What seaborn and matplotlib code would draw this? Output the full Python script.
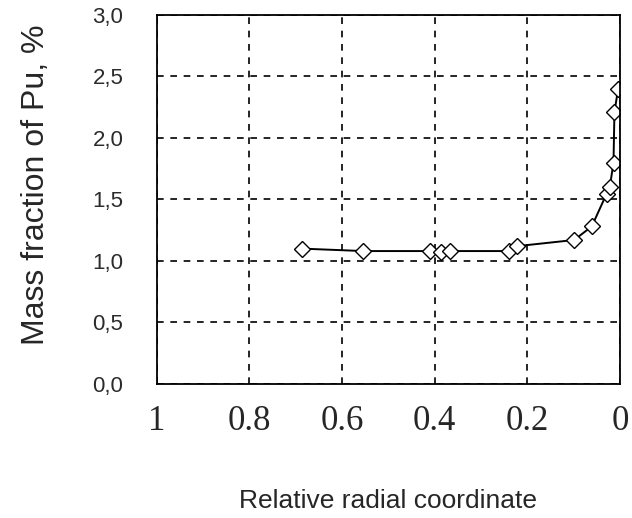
import numpy as np
import pandas as pd
import matplotlib
matplotlib.use("Agg")
import matplotlib.pyplot as plt
import seaborn as sns
from matplotlib.ticker import FuncFormatter

# Relative radial coordinate (1 = centre, 0 = pellet surface)
radial_coord = [0.687, 0.554, 0.41, 0.387, 0.367, 0.24, 0.222, 0.099,
                0.061, 0.029, 0.022, 0.014, 0.012, 0.004]
# Mass fraction of Pu, %
pu_fraction = [1.10, 1.08, 1.08, 1.07, 1.08, 1.08, 1.12, 1.17,
               1.28, 1.545, 1.60, 1.80, 2.21, 2.40]

x_ticks = [1, 0.8, 0.6, 0.4, 0.2, 0]
x_tick_labels = ["1", "0.8", "0.6", "0.4", "0.2", "0"]
y_ticks = [0.0, 0.5, 1.0, 1.5, 2.0, 2.5, 3.0]

df = pd.DataFrame({"r": radial_coord, "pu": pu_fraction})

sns.set_style("white")
plt.rcParams["font.family"] = ["Liberation Sans", "DejaVu Sans"]

fig = plt.figure(figsize=(6.32, 5.18), dpi=100)
ax = fig.add_axes([0.248, 0.259, 0.733, 0.712])

sns.lineplot(data=df, x="r", y="pu", sort=False, ax=ax, color="black",
             linewidth=1.4, marker="D", markersize=8,
             markerfacecolor="white", markeredgecolor="black",
             markeredgewidth=1.0)

ax.set_xlim(1, 0)
ax.set_ylim(0, 3.0)
ax.set_xticks(x_ticks)
ax.set_xticklabels(x_tick_labels, family="Liberation Serif", fontsize=25)
ax.set_yticks(y_ticks)
ax.yaxis.set_major_formatter(FuncFormatter(lambda v, p: f"{v:.1f}".replace(".", ",")))
ax.tick_params(axis="y", labelsize=16, labelcolor="#2b2b2b")

ax.grid(True, linestyle=(0, (4, 4)), color="black", linewidth=1.2)
for s in ax.spines.values():
    s.set_color("black")
    s.set_linewidth(1.3)

ax.tick_params(axis="both", direction="inout", length=8, width=1.2, color="black")
ax.tick_params(axis="x", pad=11)
ax.tick_params(axis="y", pad=20)

ax.set_xlabel("Relative radial coordinate", fontsize=19)
ax.set_ylabel("Mass fraction of Pu, %", fontsize=23)
ax.xaxis.set_label_coords(0.5, -0.285)
ax.yaxis.set_label_coords(-0.228, 0.54)

fig.savefig("out.png", dpi=100)
